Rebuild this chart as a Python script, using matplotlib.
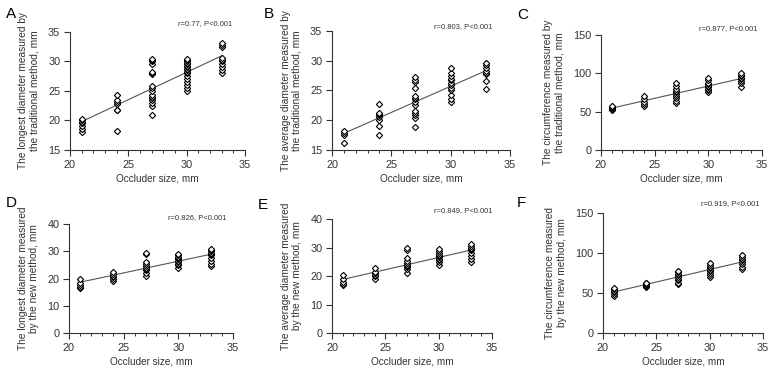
import matplotlib
matplotlib.use("Agg")
import matplotlib.pyplot as plt
import numpy as np
from matplotlib.ticker import MultipleLocator

plt.rcParams['font.family'] = ['Liberation Sans', 'DejaVu Sans']

# occluder sizes (mm)
sizes = [21, 24, 27, 30, 33]

# A: longest diameter, traditional method
longest_trad = [
    [18.0, 18.5, 19.0, 19.5, 19.8, 20.0, 20.2],
    [18.2, 21.7, 21.8, 22.8, 23.2, 23.5, 24.3],
    [21.0, 22.5, 23.0, 23.5, 23.8, 24.0, 24.3, 25.0, 25.5, 25.8, 27.8, 28.0, 28.2, 29.5, 30.0, 30.3, 30.5],
    [25.0, 25.5, 26.0, 26.5, 27.0, 27.5, 28.0, 28.2, 28.5, 28.8, 29.0, 29.3, 29.5, 29.8, 30.0, 30.2, 30.5],
    [28.0, 28.5, 29.0, 29.5, 30.0, 30.3, 30.6, 32.5, 32.8, 33.2],
]
# B: average diameter, traditional method
average_trad = [
    [16.1, 17.5, 17.8, 18.2],
    [17.6, 19.1, 20.0, 20.5, 20.8, 21.0, 21.2, 22.8],
    [18.8, 20.3, 20.8, 21.2, 21.5, 22.5, 23.0, 23.5, 23.8, 24.0, 25.5, 26.5, 26.8, 27.3],
    [23.0, 23.5, 24.2, 25.0, 25.5, 26.0, 26.3, 26.7, 27.0, 27.5, 28.0, 28.7],
    [25.2, 26.6, 27.8, 28.0, 28.3, 28.7, 29.3, 29.7],
]
# C: circumference, traditional method
circ_trad = [
    [52, 54, 55, 56, 57],
    [58, 60, 62, 66, 70],
    [61, 64, 68, 71, 73, 75, 77, 80, 83, 87],
    [75, 78, 80, 82, 84, 86, 88, 91, 94],
    [82, 88, 90, 92, 94, 96, 98, 100],
]
# D: longest diameter, new method
longest_new = [
    [16.5, 17.0, 17.5, 18.5, 20.0],
    [19.0, 20.0, 20.5, 21.0, 21.5, 22.3],
    [21.0, 22.0, 23.0, 23.5, 24.0, 24.5, 25.2, 26.0, 29.0, 29.5],
    [24.0, 25.0, 25.5, 26.0, 26.5, 27.0, 27.5, 28.0, 28.5, 29.0],
    [24.5, 25.5, 26.5, 27.5, 28.5, 29.0, 29.5, 30.0, 30.5, 31.0],
]
# E: average diameter, new method
average_new = [
    [16.8, 17.2, 17.8, 19.0, 20.3],
    [19.0, 20.0, 20.5, 21.0, 21.5, 22.7],
    [21.2, 22.3, 23.0, 23.5, 24.0, 24.5, 25.3, 26.2, 29.2, 29.8],
    [24.0, 25.0, 25.5, 26.0, 26.5, 27.0, 27.5, 28.0, 28.7, 29.3],
    [24.8, 26.0, 27.0, 28.0, 29.0, 29.5, 30.0, 30.5, 31.2],
]
# F: circumference, new method
circ_new = [
    [46, 49, 51, 53, 55, 56],
    [58, 59, 60, 61, 62, 63],
    [61, 63, 66, 68, 70, 72, 74, 76, 78],
    [70, 73, 75, 77, 79, 81, 83, 85, 87],
    [80, 83, 86, 89, 91, 93, 95, 97],
]

letters = ["A", "B", "C", "D", "E", "F"]
stats = ["r=0.77, P<0.001", "r=0.803, P<0.001", "r=0.877, P<0.001",
         "r=0.826, P<0.001", "r=0.849, P<0.001", "r=0.919, P<0.001"]
ylabels = ["The longest diameter measured by\nthe traditional method, mm",
           "The average diameter measured by\nthe traditional method, mm",
           "The circumference measured by\nthe traditional method, mm",
           "The longest diameter measured\nby the new method, mm",
           "The average diameter measured\nby the new method, mm",
           "The circumference measured\nby the new method, mm"]
ylims = [(15, 35), (15, 35), (0, 150), (0, 40), (0, 40), (0, 150)]
ysteps = [5, 5, 50, 10, 10, 50]
datasets = [longest_trad, average_trad, circ_trad, longest_new, average_new, circ_new]

# axes boxes in figure fraction
boxes = [
    [0.0909, 0.5968, 0.2273, 0.3172],
    [0.4312, 0.5968, 0.2312, 0.3199],
    [0.7805, 0.5968, 0.2091, 0.3091],
    [0.0896, 0.1048, 0.2130, 0.2930],
    [0.4312, 0.1048, 0.2078, 0.3065],
    [0.7831, 0.1048, 0.2078, 0.3226],
]
stat_pos = [(0.926, 1.07), (0.90, 1.04), (0.97, 1.06),
            (0.96, 1.055), (1.0, 1.07), (0.98, 1.075)]
letter_pos = [(0.008, 0.962), (0.342, 0.962), (0.672, 0.96),
              (0.008, 0.455), (0.335, 0.45), (0.671, 0.455)]

fig = plt.figure(figsize=(7.7, 3.72), dpi=100)

for i in range(6):
    ax = fig.add_axes(boxes[i])
    data = datasets[i]
    xs = np.concatenate([[s] * len(v) for s, v in zip(sizes, data)])
    ys = np.concatenate(data)
    ax.plot(xs, ys, linestyle='none', marker='D', ms=3.2, mfc='white',
            mec='black', mew=0.8, zorder=3)

    slope, intercept = np.polyfit(xs, ys, 1)
    xl = np.array([sizes[0], sizes[-1]])
    ax.plot(xl, slope * xl + intercept, color='#555555', lw=0.8, zorder=2)

    ax.set_xlim(20, 35)
    ax.set_ylim(*ylims[i])
    ax.xaxis.set_major_locator(MultipleLocator(5))
    ax.xaxis.set_minor_locator(MultipleLocator(1))
    ax.yaxis.set_major_locator(MultipleLocator(ysteps[i]))
    for side in ['top', 'right']:
        ax.spines[side].set_visible(False)
    for side in ['left', 'bottom']:
        ax.spines[side].set_linewidth(0.8)
        ax.spines[side].set_color('#333333')
    ax.tick_params(which='major', length=4, width=0.8, labelsize=7.8, pad=3,
                   color='#333333', labelcolor='#333333')
    ax.tick_params(which='minor', length=2, width=0.7, color='#333333')
    ax.set_xlabel("Occluder size, mm", fontsize=7.2, color='#333333', labelpad=3)
    ax.set_ylabel(ylabels[i], fontsize=7.3, color='#333333', labelpad=6,
                  linespacing=1.15)
    ax.text(stat_pos[i][0], stat_pos[i][1], stats[i], transform=ax.transAxes,
            ha='right', va='center', fontsize=5.5, color='#333333')
    fig.text(letter_pos[i][0], letter_pos[i][1], letters[i], fontsize=11,
             ha='left', va='center')

fig.savefig("out.png", dpi=100)
